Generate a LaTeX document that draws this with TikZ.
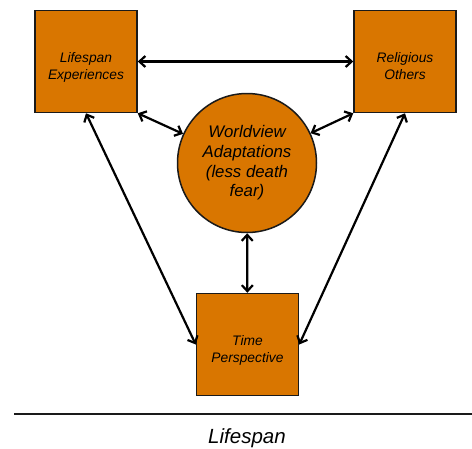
\documentclass[tikz,border=0pt]{standalone}
\usepackage{fontspec}
\setmainfont{Liberation Sans}
\usetikzlibrary{arrows.meta}
\definecolor{boxorange}{HTML}{D97600}
\definecolor{edgegray}{HTML}{1A1A1A}
\newcommand{\boxlines}[1]{\raisebox{-9.5pt}[0pt][0pt]{\begin{tabular}{@{}c@{}}#1\end{tabular}}}

\begin{document}
\begin{tikzpicture}[
    x=1pt, y=-1pt,
    factorbox/.style={draw=edgegray, fill=boxorange, line width=1.5pt, minimum size=102pt,
        font=\fontsize{13.8}{17}\selectfont\itshape},
    centercirc/.style={circle, draw=edgegray, fill=boxorange, line width=1.5pt, minimum size=139pt,
        inner sep=0pt, align=center, font=\fontsize{16.8}{19.7}\selectfont\itshape},
    link/.style={{Straight Barb[length=6pt,width=11pt]}-{Straight Barb[length=6pt,width=11pt]}, line width=2.2pt}
]

    % Page frame
    \useasboundingbox (0,0) rectangle (472,448);

    % Factors (boxes) and the worldview circle
    \node[factorbox] (lifespanexp) at (86,61.5) {\boxlines{Lifespan\\Experiences}};
    \node[factorbox] (religious) at (405,61.5) {\boxlines{Religious\\Others}};
    \node[centercirc] (worldview) at (247,163) {Worldview\\Adaptations\\(less death\\fear)};
    \node[factorbox] (timepersp) at (247.5,344.5) {\boxlines{Time\\Perspective}};

    % Two-way links
    \draw[link] (lifespanexp) -- (religious);
    \draw[link] (lifespanexp.south east) -- (worldview);
    \draw[link] (religious.south west) -- (worldview);
    \draw[link] (worldview) -- (timepersp);
    \draw[link] (lifespanexp.south) -- (timepersp.west);
    \draw[link] (religious.south) -- (timepersp.east);

    % Lifespan axis
    \coordinate (axisL) at (14,414);
    \coordinate (axisR) at (472,414);
    \draw[edgegray, line width=2pt] (axisL) -- (axisR);
    \node[font=\fontsize{20.5}{24}\selectfont\itshape] (axislabel) at (247,438) {Lifespan};

\end{tikzpicture}
\end{document}
